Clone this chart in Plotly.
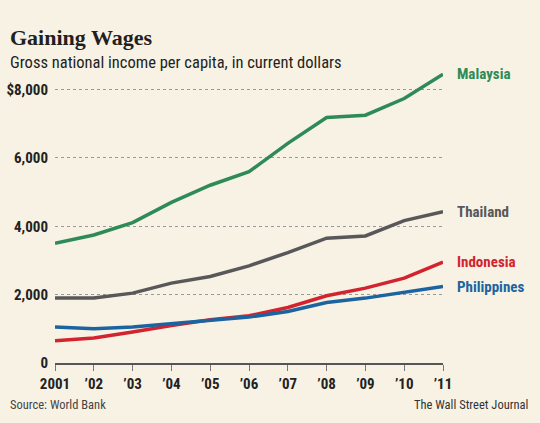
import plotly.graph_objects as go

years = list(range(2001, 2012))
x_tick_labels = ["2001", "\u201902", "\u201903", "\u201904", "\u201905", "\u201906",
                 "\u201907", "\u201908", "\u201909", "\u201910", "\u201911"]
y_tick_vals = [0, 2000, 4000, 6000, 8000]
y_tick_labels = ["0", "2,000", "4,000", "6,000", "$8,000"]

malaysia = [3504, 3746, 4105, 4700, 5200, 5594, 6423, 7182, 7250, 7737, 8447]
thailand = [1898, 1898, 2044, 2336, 2530, 2841, 3231, 3650, 3717, 4164, 4426]
indonesia = [651, 730, 905, 1098, 1264, 1381, 1623, 1965, 2190, 2482, 2949]
philippines = [1051, 1001, 1051, 1147, 1244, 1343, 1507, 1770, 1898, 2073, 2237]

series = [
    ("Malaysia", malaysia, "#2e8b57"),
    ("Thailand", thailand, "#58585a"),
    ("Indonesia", indonesia, "#d2232f"),
    ("Philippines", philippines, "#1b64a0"),
]

BG = "#f8f2e4"
SANS = "Liberation Sans Narrow, Roboto Condensed, Roboto, sans-serif"
W, H = 540, 423
L, R, T, B = 55, 97, 69, 60
PW, PH = W - L - R, H - T - B

fig = go.Figure()
for name, vals, color in series:
    fig.add_trace(go.Scatter(x=years, y=vals, mode="lines", name=name,
                             line=dict(color=color, width=3.5), showlegend=False,
                             hoverinfo="skip"))
    fig.add_annotation(x=years[-1], y=vals[-1], text="<b>%s</b>" % name,
                       xref="x", yref="y", xanchor="left", yanchor="middle",
                       xshift=12, showarrow=False,
                       font=dict(family=SANS, size=15, color=color))

fig.update_layout(
    width=W, height=H,
    paper_bgcolor=BG, plot_bgcolor=BG,
    margin=dict(l=L, r=R, t=T, b=B, autoexpand=False),
    font=dict(family=SANS, color="#222"),
    xaxis=dict(range=[2001, 2011], tickvals=years, ticktext=["<b>%s</b>" % t for t in x_tick_labels],
               showgrid=False, zeroline=False, showline=True, linecolor="#555", linewidth=1.5,
               ticks="outside", ticklen=6, tickcolor="#777", tickwidth=1, automargin=False,
               tickfont=dict(family=SANS, size=15, color="#222")),
    yaxis=dict(range=[0, 8600], tickvals=y_tick_vals, ticktext=["<b>%s</b>" % t for t in y_tick_labels],
               showgrid=True, gridcolor="#999", griddash="dot", gridwidth=1, automargin=False,
               zeroline=False, showline=False, ticks="", ticklabelstandoff=6,
               tickfont=dict(family=SANS, size=15, color="#222")),
)

def add_text(text, x, y, size, family, color="#222", xanchor="left"):
    fig.add_annotation(text=text, x=(x - L) / PW, y=(H - B - y) / PH, xref="paper", yref="paper",
                       xanchor=xanchor, yanchor="middle", showarrow=False,
                       font=dict(family=family, size=size, color=color))

add_text("<b>Gaining Wages</b>", 8, 37, 22, "Liberation Serif, DejaVu Serif, serif", "#231f20")
add_text("Gross national income per capita, in current dollars", 8, 62, 16.5, SANS, "#231f20")
add_text("Source: World Bank", 8, 404, 12.5, SANS, "#444")
add_text("The Wall Street Journal", 530, 404, 12.5, SANS, "#333", xanchor="right")

fig.write_html("out.html", config={"displayModeBar": False},
               post_script="document.body.style.margin='0';document.body.style.padding='0';")
